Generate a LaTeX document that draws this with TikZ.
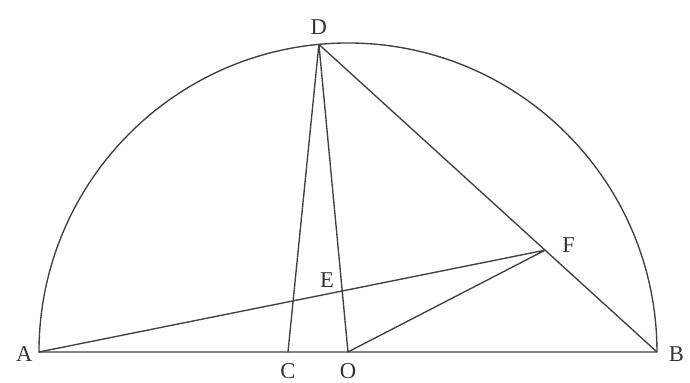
\documentclass[tikz,border=0pt]{standalone}
\usepackage{fontspec}
\setmainfont{Liberation Serif}
\usetikzlibrary{calc}

\begin{document}
\begin{tikzpicture}[line cap=round,line join=round,
  every node/.style={font=\fontsize{12.5}{14}\selectfont,text=black!80}]
  % semicircle on AB, centre O, radius 6
  \useasboundingbox (-6.757,-0.602) rectangle (6.641,6.835);
  \coordinate (O) at (0,0);
  \coordinate (A) at (-6,0);
  \coordinate (B) at (6,0);
  \coordinate (D) at (95.4:6);
  \coordinate (C) at (-1.165,0);
  \coordinate (F) at ($(D)!.669!(B)$);
  \coordinate (E) at (intersection of A--F and D--O);
  \draw[black!75,line width=.75pt] (B) arc[start angle=0,end angle=180,radius=6] -- cycle;
  \draw[black!75,line width=.75pt] (D)--(B) (D)--(C) (D)--(O) (A)--(F)--(O);
  \node[left,yshift=-1pt] (lA) at (A) {A};
  \node[right=3pt,yshift=-1pt] (lB) at (B) {B};
  \node[below=3pt] (lC) at (C) {C};
  \node[below=3pt] (lO) at (O) {O};
  \node[above=2pt] (lD) at (D) {D};
  \node[above left,xshift=-1pt,yshift=-1.5pt] (lE) at (E) {E};
  \node[right=6pt,yshift=3pt] (lF) at (F) {F};
\end{tikzpicture}
\end{document}
